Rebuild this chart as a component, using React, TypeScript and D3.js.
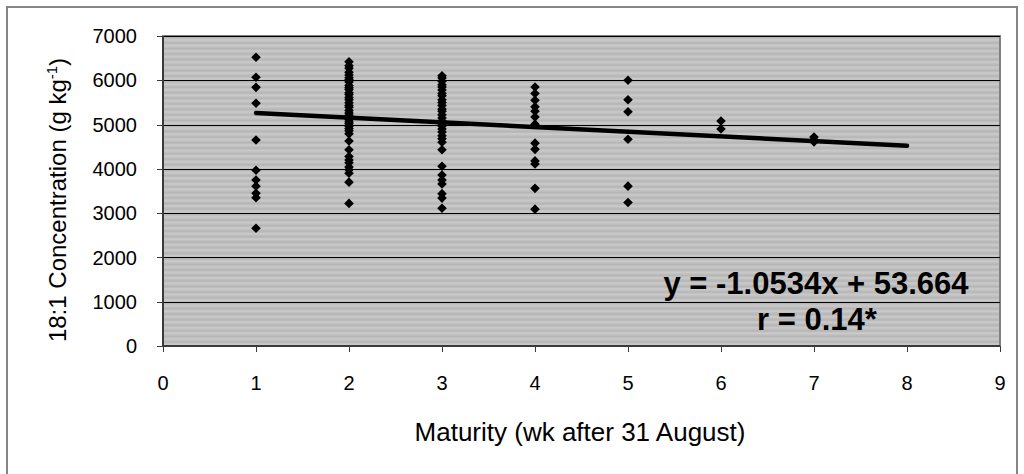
import React from "react";
import * as d3 from "d3";

// concentration readings per maturity week (g kg-1)
const weeks = [1, 2, 3, 4, 5, 6, 7];
const wk1 = [6520, 6070, 5840, 5480, 4650, 3970, 3750, 3610, 3450, 3350, 2660];
const wk2 = [6420, 6330, 6270, 6180, 6120, 6060, 6010, 5960, 5880, 5830, 5790, 5720, 5680, 5610, 5560, 5490, 5430, 5390, 5320, 5260, 5210, 5170, 5110, 5060, 5020, 4960, 4910, 4860, 4790, 4630, 4430, 4280, 4200, 4140, 4040, 3980, 3900, 3700, 3220];
const wk3 = [6100, 6050, 5980, 5900, 5850, 5780, 5700, 5650, 5560, 5500, 5430, 5350, 5300, 5220, 5150, 5080, 5020, 4970, 4900, 4830, 4750, 4680, 4600, 4430, 4060, 3860, 3750, 3660, 3440, 3340, 3110];
const wk4 = [5850, 5700, 5550, 5400, 5300, 5170, 5010, 4580, 4440, 4180, 4110, 3560, 3090];
const wk5 = [6000, 5560, 5290, 4670, 3610, 3240];
const wk6 = [5080, 4900];
const wk7 = [4720, 4660, 4610];
const byWeek = [wk1, wk2, wk3, wk4, wk5, wk6, wk7];

const xTicks = [0, 1, 2, 3, 4, 5, 6, 7, 8, 9];
const yTicks = [0, 1000, 2000, 3000, 4000, 5000, 6000, 7000];

// linear trend end points
const trendX = [1, 8];
const trendY = [5261, 4521];
const eqLines = ["y = -1.0534x + 53.664", "r = 0.14*"];

const FONT = "'Liberation Sans', Arial, sans-serif";
const PLOT = { left: 163, top: 36, right: 1000, bottom: 346 };

export default function App() {
  const x = d3.scaleLinear().domain([0, 9]).range([PLOT.left, PLOT.right]);
  const y = d3.scaleLinear().domain([0, 7000]).range([PLOT.bottom, PLOT.top]);

  const points = weeks.flatMap((w, i) => byWeek[i].map((v) => ({ w, v })));
  const line = d3.line<[number, number]>().x((d) => x(d[0])).y((d) => y(d[1]));
  const trendPath = line(trendX.map((t, i) => [t, trendY[i]] as [number, number])) || "";

  const stripe = (y(0) - y(1000)) / 8;
  const r = 4.8;
  const diamond = `M0,${-r}L${r},0L0,${r}L${-r},0Z`;

  return (
    <svg width={1024} height={474} style={{ position: "absolute", left: 0, top: 0 }} fontFamily={FONT}>
      <defs>
        <pattern id="hstripes" patternUnits="userSpaceOnUse" width={10} height={stripe} y={PLOT.top}>
          <rect width={10} height={stripe} fill="#c1c1c1" />
          <rect y={0.6} width={10} height={1.6} fill="#b5b5b5" />
          <rect y={3.2} width={10} height={1.4} fill="#cacaca" />
        </pattern>
      </defs>
      <rect width={1024} height={474} fill="#fff" />
      <rect x={7} y={7} width={1010} height={480} fill="none" stroke="#858585" strokeWidth={2} />

      {/* plot area */}
      <rect x={PLOT.left} y={PLOT.top} width={PLOT.right - PLOT.left} height={PLOT.bottom - PLOT.top}
        fill="url(#hstripes)" stroke="#808080" strokeWidth={2} />
      {yTicks.slice(1).map((t) => (
        <line key={"g" + t} x1={PLOT.left} x2={PLOT.right} y1={Math.round(y(t)) + 0.5} y2={Math.round(y(t)) + 0.5}
          stroke="#000" strokeWidth={1} />
      ))}

      {/* axes */}
      <line x1={PLOT.left} x2={PLOT.left} y1={PLOT.top} y2={PLOT.bottom} stroke="#3a3a3a" strokeWidth={2} />
      <line x1={PLOT.left} x2={PLOT.right} y1={PLOT.bottom} y2={PLOT.bottom} stroke="#3a3a3a" strokeWidth={2} />
      {yTicks.map((t) => (
        <g key={"y" + t}>
          <line x1={PLOT.left - 6} x2={PLOT.left} y1={Math.round(y(t)) + 0.5} y2={Math.round(y(t)) + 0.5} stroke="#3a3a3a" />
          <text x={137} y={y(t)} dy="0.36em" textAnchor="end" fontSize={20}>{t}</text>
        </g>
      ))}
      {xTicks.map((t) => (
        <g key={"x" + t}>
          <line x1={Math.round(x(t)) + 0.5} x2={Math.round(x(t)) + 0.5} y1={PLOT.bottom} y2={PLOT.bottom + 6} stroke="#3a3a3a" />
          <text x={x(t)} y={390} textAnchor="middle" fontSize={20}>{t}</text>
        </g>
      ))}

      {/* data */}
      {points.map((p, i) => (
        <path key={i} d={diamond} transform={`translate(${x(p.w)},${y(p.v)})`} fill="#000" />
      ))}
      <path d={trendPath} fill="none" stroke="#000" strokeWidth={4.5} strokeLinecap="round" />

      {/* titles */}
      <text x={580} y={441} textAnchor="middle" fontSize={26}>Maturity (wk after 31 August)</text>
      <text transform={`translate(66,200) rotate(-90)`} textAnchor="middle" fontSize={24}>
        18:1 Concentration (g kg<tspan dy={-9} fontSize={15}>-1</tspan><tspan dy={9}>)</tspan>
      </text>

      {/* regression label */}
      <text x={816} y={294} textAnchor="middle" fontSize={31} fontWeight="bold">{eqLines[0]}</text>
      <text x={817} y={330} textAnchor="middle" fontSize={31} fontWeight="bold">{eqLines[1]}</text>
    </svg>
  );
}
